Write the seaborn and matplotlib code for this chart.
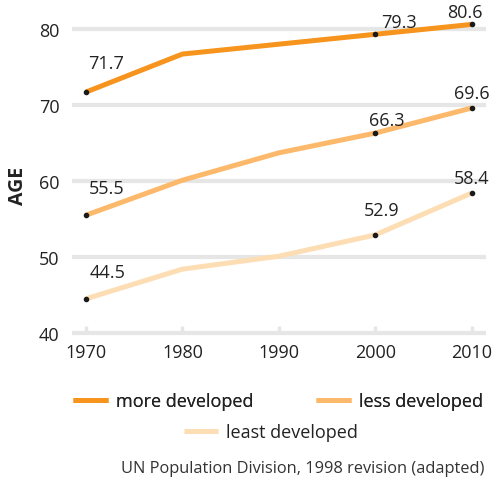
import matplotlib
matplotlib.use("Agg")
import matplotlib.pyplot as plt
import seaborn as sns
import pandas as pd

# Life expectancy at birth by development group
years = [1970, 1980, 1990, 2000, 2010]
more_developed = [71.7, 76.7, 78.0, 79.3, 80.6]
less_developed = [55.5, 60.1, 63.7, 66.3, 69.6]
least_developed = [44.5, 48.4, 50.1, 52.9, 58.4]
groups = ["more developed", "less developed", "least developed"]
labelled_years = [1970, 2000, 2010]
y_ticks = [40, 50, 60, 70, 80]
source_note = "UN Population Division, 1998 revision (adapted)"

colors = ["#F7941D", "#FDB96B", "#FDDDB3"]

df = pd.DataFrame({
    "year": years * 3,
    "age": more_developed + less_developed + least_developed,
    "group": [g for g in groups for _ in years],
})

sns.set_theme(style="white")
plt.rcParams["font.family"] = ["Open Sans", "DejaVu Sans"]
text_color = "#222222"
fs = 13

W, H = 493, 481
fig = plt.figure(figsize=(W / 100, H / 100), dpi=100)
ax = fig.add_axes([72 / W, 1 - 340 / H, 414 / W, 330 / H])

sns.lineplot(data=df, x="year", y="age", hue="group", hue_order=groups,
             palette=colors, linewidth=3.6, ax=ax, legend=True,
             solid_capstyle="butt", zorder=3)

# value labels and dots at selected years
label_offsets = {
    ("more developed", 1970): (20, 29), ("more developed", 2000): (24, 12),
    ("more developed", 2010): (-7, 12),
    ("less developed", 1970): (21, 27), ("less developed", 2000): (12, 13),
    ("less developed", 2010): (0, 15),
    ("least developed", 1970): (22, 27), ("least developed", 2000): (6, 25),
    ("least developed", 2010): (0, 15),
}
for g, vals in zip(groups, [more_developed, less_developed, least_developed]):
    for yr, v in zip(years, vals):
        if yr in labelled_years:
            ax.plot(yr, v, "o", color="#1a1a1a", markersize=3, zorder=5)
            dx, dy = label_offsets[(g, yr)]
            ax.annotate(f"{v:.1f}", (yr, v), xytext=(dx, dy),
                        textcoords="offset pixels", ha="center", va="center",
                        fontsize=fs, color=text_color, zorder=6,
                        annotation_clip=False)

ax.set_xlim(1968.55, 2011.5)
ax.set_ylim(39.21, 82.63)
ax.set_yticks(y_ticks)
ax.set_xticks(years)
ax.grid(axis="y", color="#e6e6e6", linewidth=3, zorder=0)
ax.grid(axis="x", visible=False)
for s in ax.spines.values():
    s.set_visible(False)
ax.tick_params(axis="both", length=0, labelsize=fs, labelcolor=text_color)
ax.tick_params(axis="y", pad=9)
ax.tick_params(axis="x", pad=3)
ax.vlines(years, 40, 40.9, color="#e6e6e6", linewidth=2.5, zorder=1)
ax.set_xlabel("")
ax.set_ylabel("")

fig.text(18 / W, 1 - 186 / H, "AGE", rotation=90, ha="center", va="center",
         fontsize=14, fontweight="bold", color=text_color)

handles, labels = ax.get_legend_handles_labels()
ax.get_legend().remove()
for h in handles:
    h.set_linewidth(3.6)
leg1 = fig.legend(handles[:2], labels[:2], ncol=2, loc="center",
                  bbox_to_anchor=(278 / W, 1 - 402 / H), frameon=False,
                  fontsize=fs, handlelength=1.9, handletextpad=0.45,
                  columnspacing=3.5, labelcolor=text_color)
leg2 = fig.legend(handles[2:], labels[2:], loc="center",
                  bbox_to_anchor=(271 / W, 1 - 433 / H), frameon=False,
                  fontsize=fs, handlelength=1.9, handletextpad=0.45,
                  labelcolor=text_color)
fig.add_artist(leg1)

fig.text(484 / W, 1 - 469 / H, source_note, ha="right", va="center",
         fontsize=11.8, color="#333333")

fig.savefig("out.png", dpi=100)
